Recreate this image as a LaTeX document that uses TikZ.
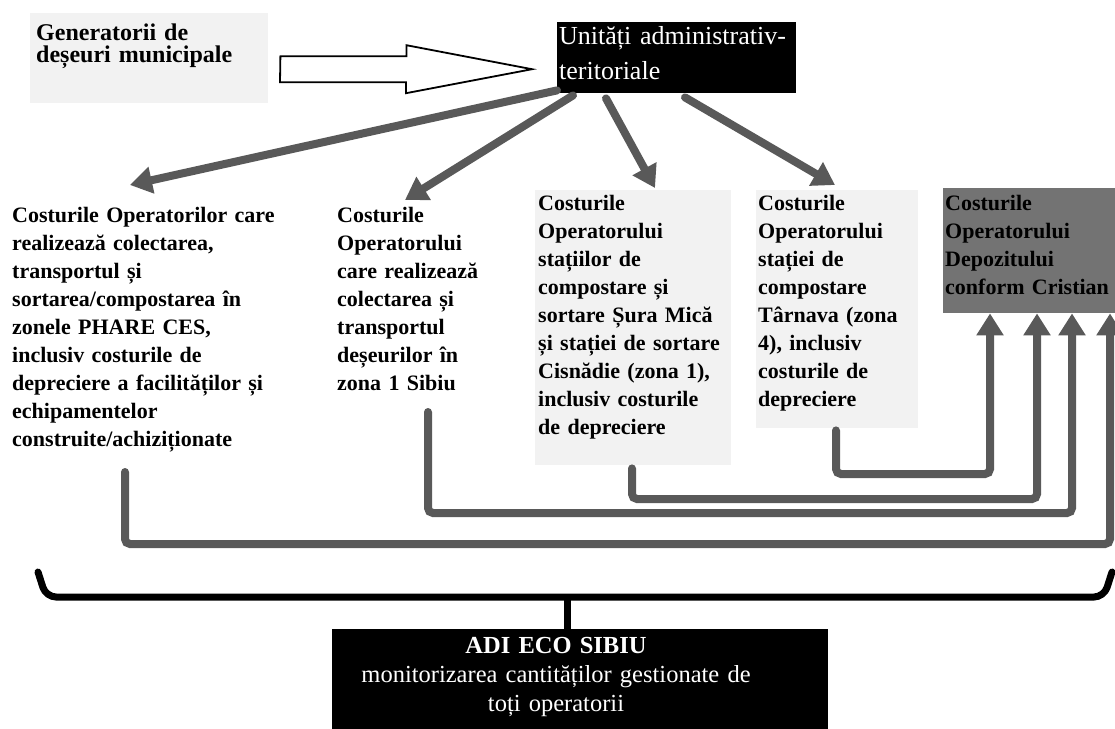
\documentclass[tikz,border=0pt]{standalone}
\usepackage{fontspec}
\setmainfont{Liberation Serif}
\usetikzlibrary{arrows.meta}
\usetikzlibrary{calc}
\newcommand{\costfont}{\fontsize{22}{28}\selectfont\bfseries}
\newcommand{\feedtip}{{Triangle[length=22pt,width=26pt]}}

\begin{document}
\begin{tikzpicture}[x=1pt,y=-1pt,
	every node/.style={inner sep=0pt},
	costs/.style={font=\costfont, align=left, text width=#1},
	dotty/.style={fill=black!5},
	darkbox/.style={fill=black, text=white},
	feed/.style={draw=black!65, line width=8pt, line cap=round},
	route/.style={feed, rounded corners=5pt}]
	\useasboundingbox (0,0) rectangle (1115,728);
	
	% generators and authorities
	\node[dotty, font=\fontsize{24}{22}\selectfont\bfseries, align=left, text width=226, inner xsep=6pt, text height=27pt, text depth=63pt, anchor=north west] (gen) at (30,13) {Generatorii de\\deșeuri municipale};
	\node[darkbox, font=\fontsize{26}{35}\selectfont, align=left, text width=235, inner xsep=2pt, text height=22pt, text depth=49pt, anchor=north west] (uat) at (557,22) {Unități administrativ-\\teritoriale};
	\draw[line width=1.8pt, fill=white] ($(gen.east)+(12,-2)$) -- ++(126,0) -- ++(0,-11) -- ($(uat.west)+(-25,11.5)$) -- ++(-126,24) -- ++(0,-11) -- ++(-126,0) -- cycle;
	
	% cost blocks
	\node[costs=300, anchor=base west] (b1) at (12,222) {Costurile Operatorilor care\\realizează colectarea,\\transportul și\\sortarea/compostarea în\\zonele PHARE CES,\\inclusiv costurile de\\depreciere a facilităților și\\echipamentelor\\construite/achiziționate};
	\node[costs=170, anchor=base west] (b2) at (337,222) {Costurile\\Operatorului\\care realizează\\colectarea și\\transportul\\deșeurilor în\\zona 1 Sibiu};
	\node[costs=190, dotty, inner xsep=3pt, text height=20pt, text depth=255pt, anchor=north west] (b3) at (535,190) {Costurile\\Operatorului\\stațiilor de\\compostare și\\sortare Șura Mică\\și stației de sortare\\Cisnădie (zona 1),\\inclusiv costurile\\de depreciere};
	\node[costs=158, dotty, inner xsep=2pt, text height=20pt, text depth=218pt, anchor=north west] (b4) at (756,190) {Costurile\\Operatorului\\stației de\\compostare\\Târnava (zona\\4), inclusiv\\costurile de\\depreciere};
	\node[costs=178, fill=black!55, inner xsep=2pt, text height=22pt, text depth=103pt, anchor=north west] (dep) at (943,188) {Costurile\\Operatorului\\Depozitului\\conform Cristian};
	
	% arrows to the operators
	\coordinate (t1) at ($(b1.base west)+(118,-37)$);
	\coordinate (t2) at ($(b2.base west)+(68,-22)$);
	\coordinate (t3) at ($(b3.north west)+(120,-2)$);
	\coordinate (t4) at ($(b4.north west)+(79,-5)$);
	\draw[feed, -\feedtip] ($(uat.south west)+(0,-3)$) -- (t1);
	\draw[feed, -\feedtip] ($(uat.south west)+(16,2)$) -- (t2);
	\draw[feed, -\feedtip] ($(uat.south west)+(49,5)$) -- (t3);
	\draw[feed, -\feedtip] ($(uat.south west)+(128,4)$) -- (t4);
	
	% routes to the landfill
	\coordinate (s1) at ($(b1.base west)+(113,250)$);
	\coordinate (s2) at ($(b2.base west)+(91,190)$);
	\coordinate (s3) at ($(b3.south west)+(97,3)$);
	\coordinate (s4) at ($(b4.south west)+(80,2)$);
	\coordinate (c1) at (1110,544);
	\coordinate (c2) at (1072,513);
	\coordinate (c3) at (1037,499);
	\coordinate (c4) at (990,474);
	\draw[route, -\feedtip] (s1) |- (c1) -- (c1 |- dep.south);
	\draw[route, -\feedtip] (s2) |- (c2) -- (c2 |- dep.south);
	\draw[route, -\feedtip] (s3) |- (c3) -- (c3 |- dep.south);
	\draw[route, -\feedtip] (s4) |- (c4) -- (c4 |- dep.south);
	
	% brace and ADI
	\node[darkbox, minimum width=496pt, minimum height=120pt, anchor=north west] (adi) at (332,629) {};
	\node[text=white, font=\fontsize{24.5}{29}\selectfont, align=center, text width=480, anchor=base] (aditxt) at (556,653) {\textbf{ADI ECO SIBIU}\\monitorizarea cantităților gestionate de\\toți operatorii};
	\draw[line width=7pt, line cap=round, rounded corners=10pt] (38,572) -- (46,597) -- (1104,597) -- (1112,572);
	\coordinate (bmid) at (567,597);
	\draw[line width=7pt] (bmid) -- (bmid |- adi.north);
\end{tikzpicture}
\end{document}
